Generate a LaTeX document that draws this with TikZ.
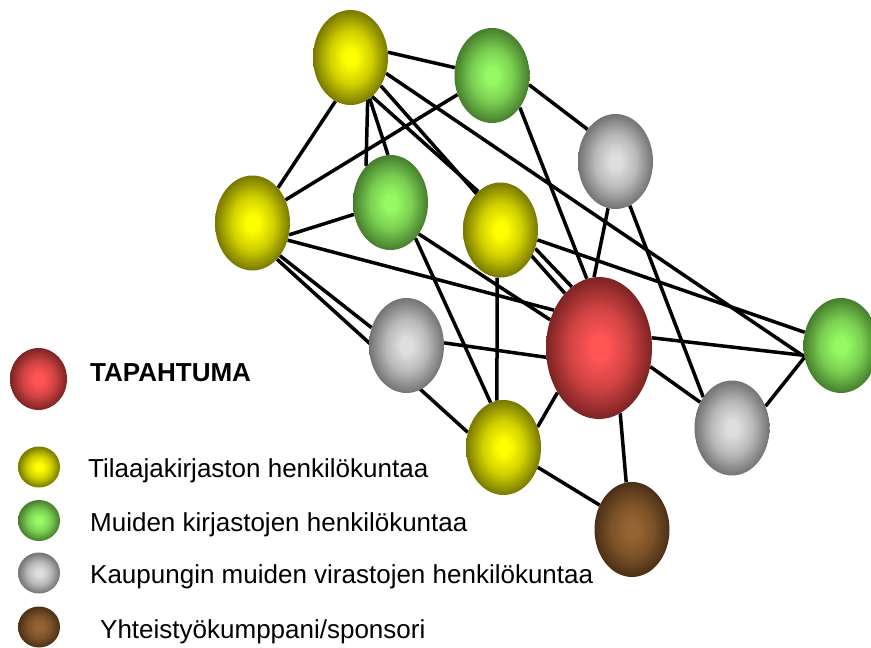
\documentclass[tikz,border=0pt]{standalone}
\usepackage{fontspec}
\setmainfont{Liberation Sans}
\usetikzlibrary{shapes.geometric,backgrounds}

\definecolor{yelIn}{RGB}{255,255,0}
\definecolor{yelOut}{RGB}{120,120,0}
\definecolor{grnIn}{RGB}{150,250,100}
\definecolor{grnOut}{RGB}{70,125,45}
\definecolor{gryIn}{RGB}{222,222,222}
\definecolor{gryOut}{RGB}{115,115,115}
\definecolor{redIn}{RGB}{255,85,85}
\definecolor{redOut}{RGB}{125,35,35}
\definecolor{brnIn}{RGB}{150,100,50}
\definecolor{brnOut}{RGB}{75,48,22}

% one ball shading per colour
\pgfdeclareradialshading{yelball}{\pgfpoint{0bp}{0bp}}{color(0bp)=(yelIn); color(4bp)=(yelIn); color(14bp)=(yelIn!65!yelOut); color(25bp)=(yelOut); color(50bp)=(yelOut)}
\pgfdeclareradialshading{grnball}{\pgfpoint{0bp}{0bp}}{color(0bp)=(grnIn); color(4bp)=(grnIn); color(14bp)=(grnIn!65!grnOut); color(25bp)=(grnOut); color(50bp)=(grnOut)}
\pgfdeclareradialshading{gryball}{\pgfpoint{0bp}{0bp}}{color(0bp)=(gryIn); color(4bp)=(gryIn); color(14bp)=(gryIn!65!gryOut); color(25bp)=(gryOut); color(50bp)=(gryOut)}
\pgfdeclareradialshading{redball}{\pgfpoint{0bp}{0bp}}{color(0bp)=(redIn); color(4bp)=(redIn); color(14bp)=(redIn!65!redOut); color(25bp)=(redOut); color(50bp)=(redOut)}
\pgfdeclareradialshading{brnball}{\pgfpoint{0bp}{0bp}}{color(0bp)=(brnIn); color(4bp)=(brnIn); color(14bp)=(brnIn!65!brnOut); color(25bp)=(brnOut); color(50bp)=(brnOut)}

\tikzset{
  ball/.style={ellipse,inner sep=0pt,minimum width=75pt,minimum height=95pt},
  yel/.style={ball,shading=yelball},
  grn/.style={ball,shading=grnball},
  gry/.style={ball,shading=gryball},
  brn/.style={ball,shading=brnball},
  event/.style={ball,shading=redball},
  small/.style={minimum width=42pt,minimum height=41pt},
  legendtext/.style={anchor=base west,inner sep=0pt,font=\fontsize{26}{31}\selectfont}
}

\begin{document}
\begin{tikzpicture}[x=1pt,y=-1pt]
  \useasboundingbox (0,0) rectangle (871,648);

  \node[yel] (y1)  at (350.5,57.5) {};
  \node[grn] (g1)  at (492,75.5) {};
  \node[gry] (gr1) at (615.5,161.5) {};
  \node[yel] (y2)  at (252.5,223) {};
  \node[grn] (g2)  at (390.5,202.5) {};
  \node[yel] (y3)  at (500.5,230) {};
  \node[gry] (gr2) at (406.5,345.5) {};
  \node[event,minimum width=106pt,minimum height=142pt] (r) at (599,348) {};
  \node[grn] (g3)  at (841,345.5) {};
  \node[gry] (gr3) at (732,428) {};
  \node[yel] (y4)  at (503.5,447.5) {};
  \node[brn] (b)   at (632,529.5) {};

  \begin{pgfonlayer}{background}
    \begin{scope}[every edge/.style={draw,line width=3.5pt}]
      \path (y1.8)    edge (g1.168);
      \path (y1.251)  edge (y2.54);
      \path (y1.292)  edge (g2.124);
      \path (y1.295)  edge (g2.93);
      \path (y1.299)  edge (y3.120);
      \path (y1.317)  edge (r.122);
      \path (y1.-24)  edge (g3.197);
      \path (g1.209)  edge (y2.35);
      \path (g1.-14)  edge (gr1.131);
      \path (g1.-49)  edge (r.100);
      \path (gr1.261) edge (r.94);
      \path (gr1.-72) edge (gr3.133);
      \path (y2.-18)  edge (g2.198);
      \path (y2.-26)  edge (r.140);
      \path (y2.-50)  edge (gr2.153);
      \path (y2.-56)  edge (y4.157);
      \path (g2.-48)  edge (r.150);
      \path (g2.-55)  edge (y4.106);
      \path (y3.266)  edge (y4.98);
      \path (y3.-15)  edge (g3.160);
      \path (y3.-28)  edge (r.114);
      \path (gr2.4)   edge (r.190);
      \path (r.11)    edge (g3.195);
      \path (r.-20)   edge (gr3.141);
      \path (g3.198)  edge (gr3.33);
      \path (r.227)   edge (y4.31);
      \path (r.-72)   edge (b.97);
      \path (y4.-30)  edge (b.143);
    \end{scope}
  \end{pgfonlayer}

  % legend
  \node[event,minimum width=57pt,minimum height=62pt] (kr) at (38.5,379) {};
  \node[yel,small] (ky)  at (39,467) {};
  \node[grn,small] (kg)  at (39,520.5) {};
  \node[gry,small] (kgr) at (39,573) {};
  \node[brn,small] (kb)  at (39,627) {};

  \node[legendtext,font=\bfseries\fontsize{26}{31}\selectfont] (tr) at (90,381.5) {TAPAHTUMA};
  \node[legendtext] (ty)  at (88,477) {Tilaajakirjaston henkilökuntaa};
  \node[legendtext] (tg)  at (90,531.5) {Muiden kirjastojen henkilökuntaa};
  \node[legendtext] (tgr) at (90,583) {Kaupungin muiden virastojen henkilökuntaa};
  \node[legendtext] (tb)  at (100,638) {Yhteistyökumppani/sponsori};

\end{tikzpicture}
\end{document}
